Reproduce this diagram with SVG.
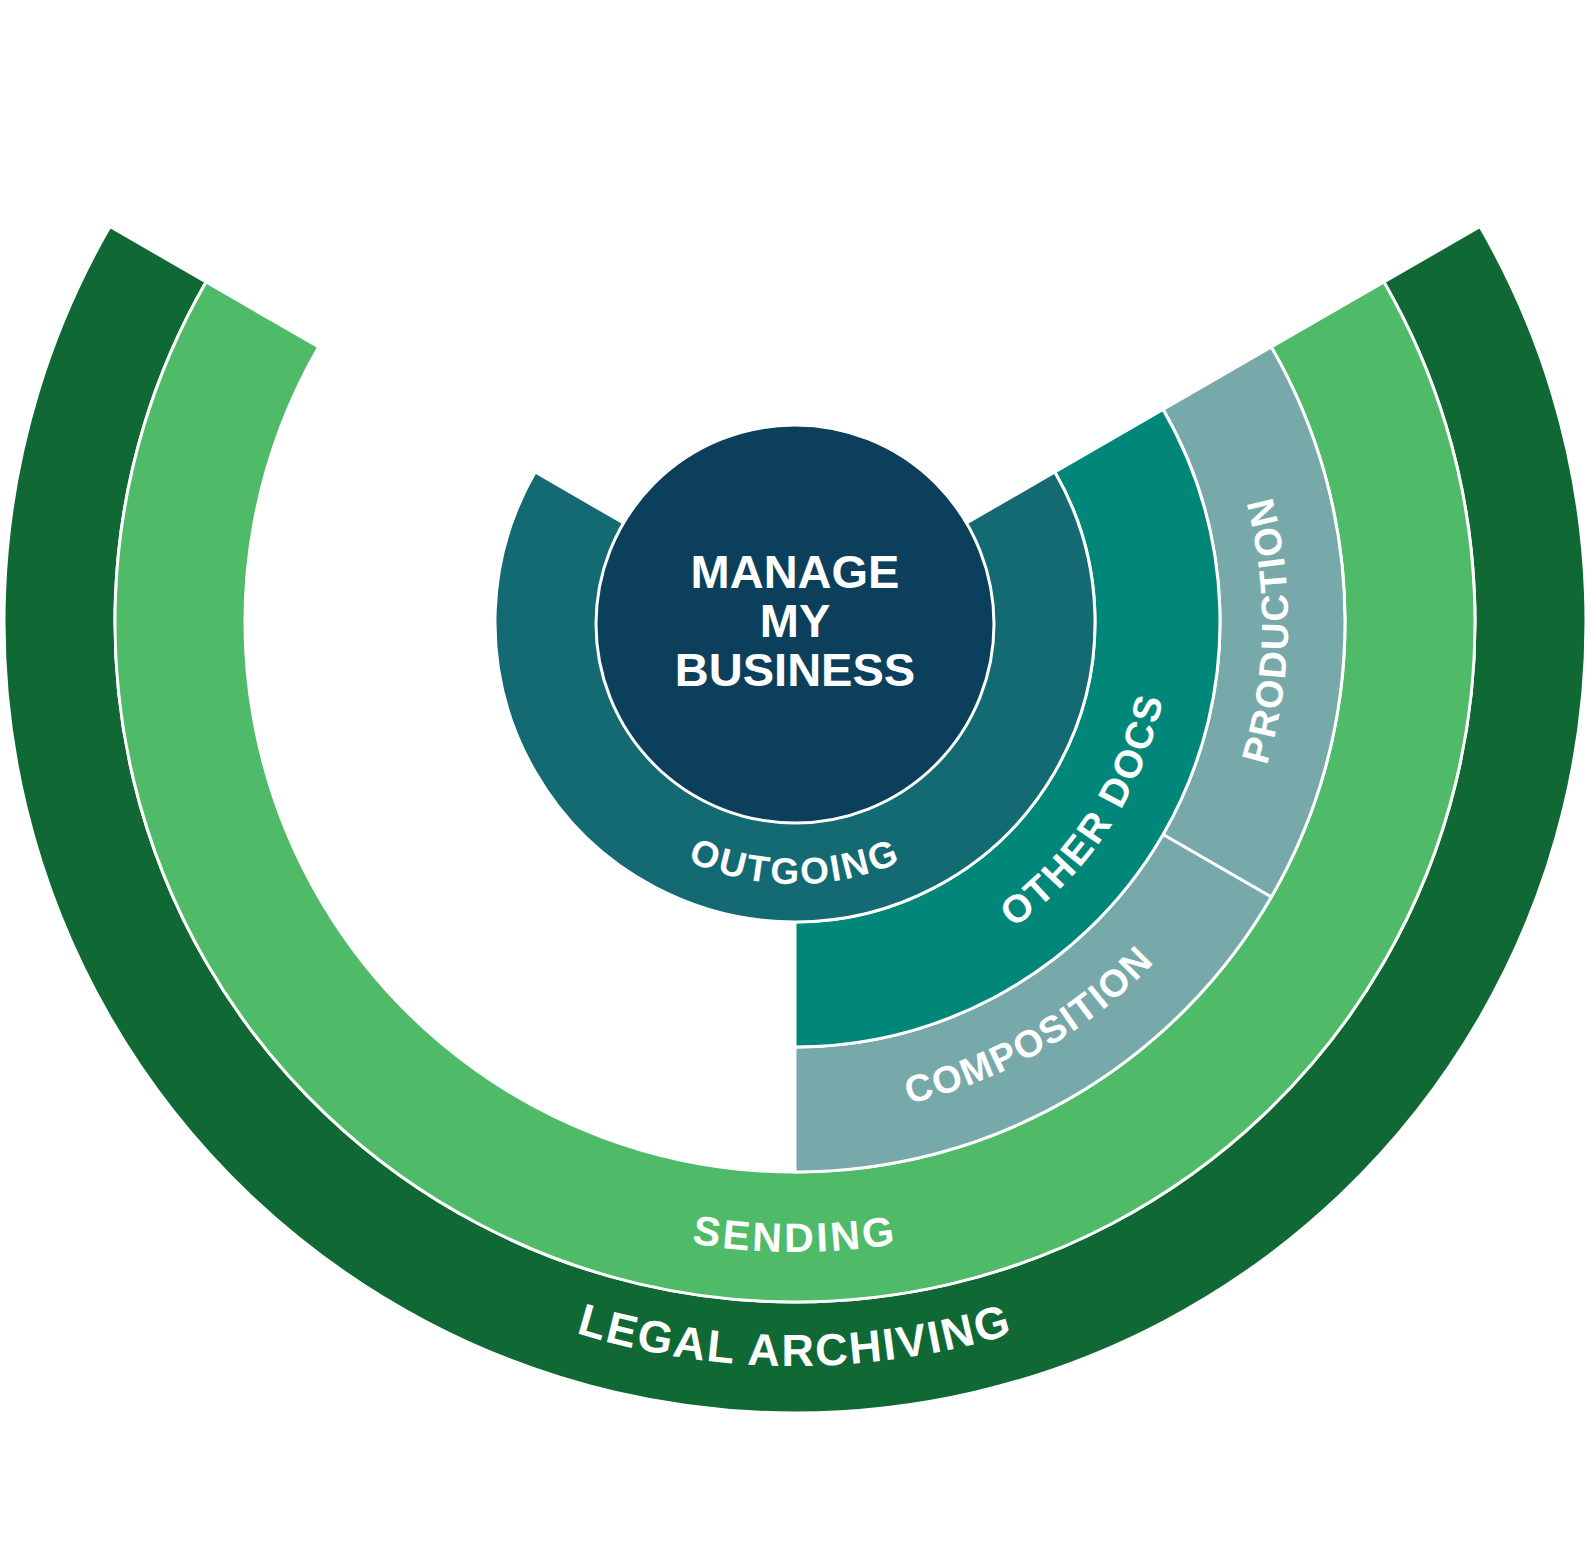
<svg xmlns="http://www.w3.org/2000/svg" width="1590" height="1544" viewBox="0 0 1590 1544">
<style>
.seg{stroke:#ffffff;stroke-width:3;stroke-linejoin:miter}
.lbl{font-family:"Liberation Sans",Arial,sans-serif;font-weight:bold;fill:#ffffff}
</style>
<defs>
<path id="p-outgoing" d="M 533,622 A 262 262 0 0 0 1057,622"/>
<path id="p-sending" d="M 165,622 A 630 630 0 0 0 1425,622"/>
<path id="p-legal" d="M 51,622 A 744 744 0 0 0 1539,622"/>
<path id="p-otherdocs" d="M 755.7,995.9 A 376 376 0 0 0 1120.6,434"/>
<path id="p-composition" d="M 547.5,1050.7 A 495 495 0 0 0 1290,622"/>
<path id="p-production" d="M 1034,1053.2 A 493 493 0 0 0 1048.9,199.4"/>
</defs>
<rect width="1590" height="1544" fill="#ffffff"/>
<g id="legal-archiving">
<path class="seg" fill="#106835" d="M 1480.03,226.5 A 791 791 0 1 1 109.97,226.5 L 206.10,282 A 680 680 0 1 0 1383.90,282 Z"/>
<text class="lbl" font-size="45" letter-spacing="2"><textPath href="#p-legal" startOffset="50%" text-anchor="middle">LEGAL ARCHIVING</textPath></text>
</g>
<g id="sending">
<path class="seg" fill="#4FBA67" d="M 1383.90,282 A 680 680 0 1 1 206.10,282 L 318.69,347 A 550 550 0 1 0 1271.31,347 Z"/>
<text class="lbl" font-size="41" letter-spacing="3"><textPath href="#p-sending" startOffset="50%" text-anchor="middle">SENDING</textPath></text>
</g>
<g id="production">
<path class="seg" fill="#77A9AB" d="M 1271.31,347 A 550 550 0 0 1 1271.31,897 L 1163.06,834.5 A 425 425 0 0 0 1163.06,409.5 Z"/>
<text class="lbl" font-size="38" letter-spacing="1.9"><textPath href="#p-production" startOffset="50%" text-anchor="middle">PRODUCTION</textPath></text>
</g>
<g id="composition">
<path class="seg" fill="#77A9AB" d="M 1271.31,897 A 550 550 0 0 1 795,1172 L 795,1047 A 425 425 0 0 0 1163.06,834.5 Z"/>
<text class="lbl" font-size="38" letter-spacing="1.7"><textPath href="#p-composition" startOffset="50%" text-anchor="middle">COMPOSITION</textPath></text>
</g>
<g id="other-docs">
<path class="seg" fill="#00877A" d="M 1163.06,409.5 A 425 425 0 0 1 795,1047 L 795,922 A 300 300 0 0 0 1054.81,472 Z"/>
<text class="lbl" font-size="39" letter-spacing="2.2"><textPath href="#p-otherdocs" startOffset="50%" text-anchor="middle">OTHER DOCS</textPath></text>
</g>
<g id="outgoing">
<path class="seg" fill="#146A73" d="M 795,622 L 1054.81,472 A 300 300 0 1 1 535.19,472 Z"/>
<text class="lbl" font-size="37" letter-spacing="2.5"><textPath href="#p-outgoing" startOffset="50%" text-anchor="middle">OUTGOING</textPath></text>
</g>
<g id="manage-my-business">
<circle cx="795" cy="624" r="199" fill="#0B3F5B" stroke="#ffffff" stroke-width="3"/>
<text class="lbl" font-size="47" text-anchor="middle"><tspan x="795" y="588">MANAGE</tspan><tspan x="795" y="637">MY</tspan><tspan x="795" y="686">BUSINESS</tspan></text>
</g>
<g id="connectors"/>
</svg>
